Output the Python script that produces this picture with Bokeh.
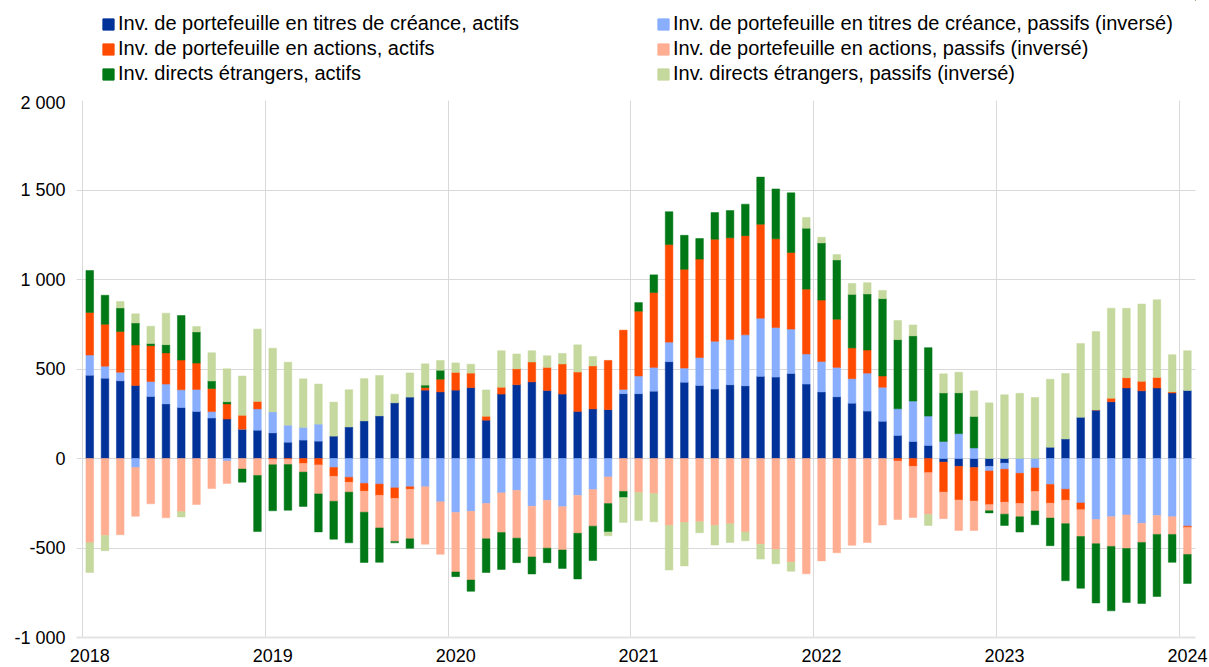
import numpy as np
from bokeh.plotting import figure
from bokeh.layouts import column
from bokeh.models import Legend, LegendItem, FixedTicker, Range1d, ColumnDataSource
from bokeh.embed import file_html
from bokeh.resources import INLINE

# ---------------- data (monthly, Jan 2018 - Jan 2024) ----------------
year_labels = ["2018", "2019", "2020", "2021", "2022", "2023", "2024"]

debt_assets = [
    465, 449, 434, 408, 347, 305, 285, 263, 226, 220, 164, 158,
    143, 91, 103, 97, 125, 176, 210, 238, 311, 343, 382, 372,
    382, 396, 214, 360, 412, 428, 380, 360, 263, 277, 273, 362,
    362, 376, 541, 426, 408, 388, 412, 406, 459, 455, 475, 416,
    372, 345, 309, 265, 208, 129, 95, 73, -20, -44, -50, -44,
    -26, 0, 0, 63, 109, 230, 271, 317, 394, 378, 394, 366,
    380,
]
debt_liabilities_inv = [
    113, 67, 48, -50, 83, 111, 99, 123, 36, -14, 0, 119,
    117, 95, 71, 95, -50, -105, -139, -143, -164, -158, -158, -242,
    -301, -295, -251, -192, -178, -267, -234, -269, -206, -174, -103, 24,
    99, 133, 109, 79, 156, 267, 253, 285, 325, 277, 248, 168,
    170, 164, 137, 212, 190, 149, 226, 164, 95, 139, 59, -26,
    -34, -83, -53, -145, -172, -248, -341, -325, -315, -362, -319, -325,
    -378,
]
equity_assets = [
    238, 234, 228, 226, 200, 174, 166, 147, 129, 85, 77, 42,
    -5, -4, -28, -36, -50, -28, -44, -63, -59, -14, 14, 71,
    99, 81, 22, 38, 89, 111, 129, 168, 220, 240, 275, 331,
    362, 418, 545, 552, 550, 570, 568, 554, 525, 495, 428, 362,
    343, 269, 172, 129, 63, -14, -44, -79, -168, -188, -188, -188,
    -184, -168, -131, -105, -61, -38, 0, 20, 57, 53, 59, 6,
    -8,
]
equity_liabilities_inv = [
    -471, -430, -426, -273, -253, -331, -297, -257, -168, -125, -59, -95,
    -30, -30, -48, -162, -139, -55, -117, -182, -240, -277, -321, -293,
    -333, -384, -198, -222, -267, -283, -267, -242, -212, -204, -149, -184,
    -190, -196, -374, -358, -354, -374, -364, -410, -479, -509, -580, -644,
    -572, -527, -485, -469, -372, -327, -285, -234, -148, -170, -164, -34,
    -67, -75, -109, -83, -131, -150, -135, -166, -188, -107, -105, -99,
    -150,
]
fdi_assets = [
    234, 162, 131, 123, 12, 46, 249, 174, 42, 12, -73, -313,
    -257, -255, -192, -212, -212, -283, -281, -192, -8, -53, 14, 50,
    -26, -63, -188, -206, -137, -95, -81, -103, -255, -192, -158, -34,
    48, 99, 184, 190, 115, 149, 152, 176, 263, 279, 333, 341,
    319, 331, 299, 313, 432, 386, 364, 382, 271, 228, 176, -12,
    -63, -85, -77, -154, -319, -289, -331, -360, -301, -341, -347, -156,
    -162,
]
fdi_liabilities_inv = [
    -166, -85, 36, 51, 97, 176, -30, 30, 158, 184, 220, 404,
    356, 352, 271, 224, 190, 208, 236, 226, 48, 135, 119, 55,
    53, 50, 147, 204, 83, 63, 65, 59, 152, 53, -22, -139,
    -156, -158, -249, -242, -61, -109, -105, -50, -83, -79, -50, 59,
    32, 30, 61, 63, 46, 107, 61, -61, 107, 115, 143, 311,
    356, 364, 341, 380, 366, 412, 438, 503, 388, 432, 434, 208,
    222,
]

series_names = [
    "Inv. de portefeuille en titres de créance, actifs",
    "Inv. de portefeuille en titres de créance, passifs (inversé)",
    "Inv. de portefeuille en actions, actifs",
    "Inv. de portefeuille en actions, passifs (inversé)",
    "Inv. directs étrangers, actifs",
    "Inv. directs étrangers, passifs (inversé)",
]
series_values = [debt_assets, debt_liabilities_inv, equity_assets,
                 equity_liabilities_inv, fdi_assets, fdi_liabilities_inv]
colors = ["#003299", "#88aefd", "#ff4b00", "#ffae92", "#007816", "#c5d89d"]

y_ticks = [-1000, -500, 0, 500, 1000, 1500, 2000]
y_tick_labels = ["-1 000", "-500", "0", "500", "1 000", "1 500", "2 000"]

FONT = "Liberation Sans"
W = 1209

# ---------------- legend strip (top) ----------------
leg = figure(width=W, height=92, output_backend="svg", toolbar_location=None,
             x_range=Range1d(0, 1), y_range=Range1d(0, 1),
             x_axis_location=None, y_axis_location=None,
             min_border=0, min_border_left=0, min_border_right=0,
             min_border_top=0, min_border_bottom=0)
leg.outline_line_color = None
leg.xgrid.visible = False
leg.ygrid.visible = False
# legend-key renderers (bar glyphs kept outside the visible range)
key_src = ColumnDataSource(dict(x=[5.0], top=[6.0], bottom=[5.0]))
keys = [leg.vbar(x="x", top="top", bottom="bottom", width=0.5, source=key_src,
                 fill_color=c, line_color=c) for c in colors]


def make_legend(idx, vx):
    return Legend(items=[LegendItem(label=series_names[i], renderers=[keys[i]]) for i in idx],
                  location=(vx, 7), orientation="vertical",
                  glyph_width=14, glyph_height=14, label_standoff=3,
                  label_height=20, spacing=2,
                  padding=0, margin=0, border_line_alpha=0,
                  background_fill_alpha=0,
                  label_text_font=FONT, label_text_font_size="20px",
                  label_text_color="#000000")


leg.add_layout(make_legend([0, 2, 4], 25), "center")
leg.add_layout(make_legend([1, 3, 5], 580), "center")

# ---------------- main chart ----------------
n = len(debt_assets)
x = np.arange(n) + 0.5

p = figure(width=W, height=572, output_backend="svg", toolbar_location=None,
           x_range=Range1d(-0.37, 73.03), y_range=Range1d(-1000, 2000),
           min_border_left=76, min_border_right=14, min_border_top=8,
           min_border_bottom=27)
p.outline_line_color = None
p.background_fill_color = "white"

# stacked bars: positives upward, negatives downward
pos = np.zeros(n)
neg = np.zeros(n)
for vals, col in zip(series_values, colors):
    v = np.array(vals, dtype=float)
    bottom = np.where(v >= 0, pos, neg + v)
    top = np.where(v >= 0, pos + v, neg)
    pos = np.where(v >= 0, pos + v, pos)
    neg = np.where(v < 0, neg + v, neg)
    src = ColumnDataSource(dict(x=x, top=top, bottom=bottom))
    p.vbar(x="x", width=0.5, top="top", bottom="bottom", source=src,
           fill_color=col, line_color=col, line_width=0.5)

# axes
p.xaxis.ticker = FixedTicker(ticks=[12 * i + 0.5 for i in range(len(year_labels))])
p.xaxis.major_label_overrides = {12 * i + 0.5: lab for i, lab in enumerate(year_labels)}
p.xaxis.major_tick_line_color = None
p.xaxis.minor_tick_line_color = None
p.xaxis.axis_line_color = "#e3e3e3"
p.xaxis.axis_line_width = 2
p.xaxis.major_label_standoff = 5
p.xaxis.major_label_text_font = FONT
p.xaxis.major_label_text_font_size = "18px"
p.xaxis.major_label_text_color = "#000000"

p.yaxis.ticker = FixedTicker(ticks=y_ticks)
p.yaxis.major_label_overrides = dict(zip(y_ticks, y_tick_labels))
p.yaxis.major_tick_line_color = None
p.yaxis.minor_tick_line_color = None
p.yaxis.axis_line_color = None
p.yaxis.major_label_standoff = 5
p.yaxis.major_label_text_font = FONT
p.yaxis.major_label_text_font_size = "18px"
p.yaxis.major_label_text_color = "#000000"

p.xgrid.ticker = FixedTicker(ticks=[12 * i for i in range(len(year_labels))])
p.xgrid.grid_line_color = "#d9d9d9"
p.ygrid.grid_line_color = "#d9d9d9"

layout = column(leg, p, spacing=0)
open("out.html", "w").write(file_html(layout, INLINE))
